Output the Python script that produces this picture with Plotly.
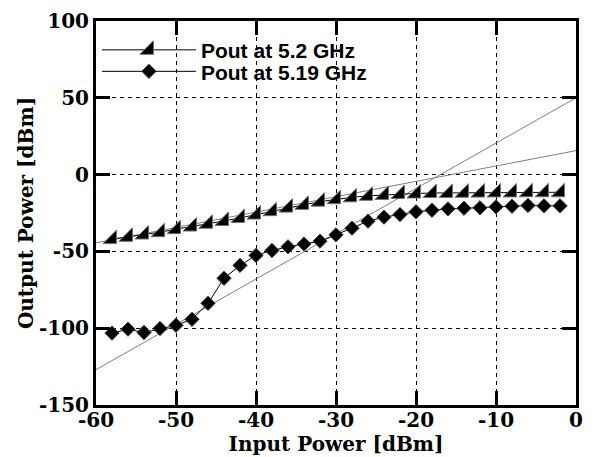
import plotly.graph_objects as go

pin = [-58, -56, -54, -52, -50, -48, -46, -44, -42, -40, -38, -36, -34, -32, -30,
       -28, -26, -24, -22, -20, -18, -16, -14, -12, -10, -8, -6, -4, -2]
pout_52 = [-42.0, -40.5, -39.0, -37.5, -35.5, -33.8, -32.0, -30.2, -28.2, -26.0,
           -23.8, -21.5, -19.7, -17.6, -16.0, -14.8, -13.8, -13.2, -12.6, -12.3,
           -12.0, -11.9, -11.8, -11.7, -11.6, -11.6, -11.5, -11.5, -11.5]
pout_519 = [-103.2, -100.6, -102.8, -100.2, -98.1, -94.2, -83.8, -67.5, -59.1, -52.6,
            -49.4, -47.0, -45.2, -43.3, -39.2, -34.9, -30.3, -27.7, -26.0, -24.2,
            -23.2, -22.3, -21.9, -21.6, -21.0, -20.6, -20.1, -20.3, -20.3]

fit_x = [-60, 0]
fit_steep = [-127, 50]
fit_linear = [-44.4, 15.6]

x_ticks = [-60, -50, -40, -30, -20, -10, 0]
y_ticks = [-150, -100, -50, 0, 50, 100]

fig = go.Figure()
fig.add_trace(go.Scatter(x=fit_x, y=fit_steep, mode="lines",
                         line=dict(color="#808080", width=1), showlegend=False, hoverinfo="skip"))
fig.add_trace(go.Scatter(x=fit_x, y=fit_linear, mode="lines",
                         line=dict(color="#808080", width=1), showlegend=False, hoverinfo="skip"))
fig.add_trace(go.Scatter(x=pin, y=pout_52, mode="lines+markers", name="Pout at 5.2 GHz",
                         legend="legend",
                         line=dict(color="black", width=1),
                         marker=dict(symbol="triangle-se", size=15, color="black",
                                     line=dict(color="#707070", width=1))))
fig.add_trace(go.Scatter(x=pin, y=pout_519, mode="lines+markers", name="Pout at 5.19 GHz",
                         legend="legend2",
                         line=dict(color="black", width=1),
                         marker=dict(symbol="diamond", size=11, color="black",
                                     line=dict(color="#404040", width=1))))

axis_common = dict(
    showline=True, linecolor="black", linewidth=3, mirror="ticks",
    ticks="inside", ticklen=14, tickwidth=3, tickcolor="black",
    showgrid=True, gridcolor="black", gridwidth=1, griddash="4px,4px",
    zeroline=False, automargin=False,
    tickfont=dict(family="DejaVu Serif", size=20, color="black", weight="bold"),
)

fig.update_xaxes(range=[-60, 0], tickvals=x_ticks, ticktext=[str(v) for v in x_ticks],
                 ticklabelstandoff=-5,
                 title=dict(text="Input Power [dBm]", standoff=0,
                            font=dict(family="DejaVu Serif", size=20, color="black", weight="bold")),
                 **axis_common)
fig.update_yaxes(range=[-150, 100], tickvals=y_ticks, ticktext=[str(v) for v in y_ticks],
                 title=dict(text="Output Power [dBm]", standoff=0,
                            font=dict(family="DejaVu Serif", size=20, color="black", weight="bold")),
                 **axis_common)

legend_font = dict(family="Liberation Sans", size=21, color="black", weight="bold")
fig.update_layout(
    width=585, height=449,
    margin=dict(l=88, r=17, t=13, b=52),
    paper_bgcolor="white", plot_bgcolor="white",
    legend=dict(x=0.002, y=0.924, xanchor="left", yanchor="middle", bgcolor="rgba(0,0,0,0)",
                itemwidth=94, font=legend_font),
    legend2=dict(x=0.002, y=0.868, xanchor="left", yanchor="middle", bgcolor="rgba(0,0,0,0)",
                 itemwidth=94, font=legend_font),
)

fig.write_html("out.html")
